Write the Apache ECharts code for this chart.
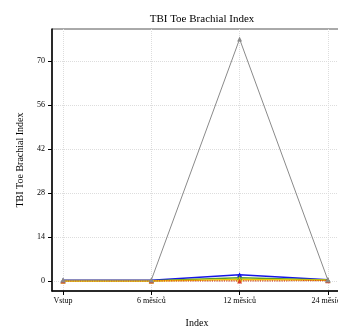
<!DOCTYPE html>
<html><head><meta charset="utf-8">
<script src="https://cdn.jsdelivr.net/npm/echarts@6/dist/echarts.min.js"></script>
<style>html,body{margin:0;padding:0;background:#fff}#c{width:338px;height:333px}</style>
</head><body><div id="c"></div>
<script>
const categories = ['Vstup', '6 měsíců', '12 měsíců', '24 měsíců'];
const yTicks = [0, 14, 28, 42, 56, 70];
const grayVals = [0.3, 0.3, 77, 0.3];
const blueVals = [0.2, 0.2, 2.0, 0.4];
const greenVals = [0.1, 0.1, 1.0, 0.3];
const yellowVals = [0.0, 0.0, 0.5, 0.2];
const redVals = [0.0, 0.0, 0.0, 0.1];

const font = 'Liberation Serif';
function mk(name, vals, color, width, type, z) {
  return {
    name, type: 'line', data: vals.map((v, i) => [i, v]), z: z || 2,
    symbol: 'triangle', symbolSize: 5,
    lineStyle: {color, width, type: type || 'solid'},
    itemStyle: {color}
  };
}
const chart = echarts.init(document.getElementById('c'), null, {renderer: 'canvas'});
chart.setOption({
  animation: false,
  title: {text: 'TBI Toe Brachial Index', left: 197, top: 9, textAlign: 'center',
    textStyle: {fontFamily: font, fontSize: 11, fontWeight: 'normal', color: '#000'}},
  grid: {left: 52, top: 29, right: -4, bottom: 42, show: true, borderColor: '#555', borderWidth: 1,
    containLabel: false, outerBoundsMode: 'none'},
  xAxis: {
    type: 'value', min: -0.125, max: 3.16,
    name: 'Index', nameLocation: 'middle', nameGap: 27,
    nameTextStyle: {fontFamily: font, fontSize: 10, color: '#000'},
    axisLine: {show: true, onZero: false, lineStyle: {color: '#000', width: 1.5}},
    axisTick: {show: true, customValues: [0, 1, 2, 3], length: 4, lineStyle: {color: '#000'}},
    axisLabel: {customValues: [0, 1, 2, 3], formatter: v => categories[Math.round(v)] || '',
      fontFamily: font, fontSize: 8, color: '#000', margin: 6, hideOverlap: false},
    splitLine: {show: true, lineStyle: {color: '#ddd', type: 'dotted'}}
  },
  yAxis: {
    type: 'value', min: -3.2, max: 80.2,
    name: 'TBI Toe Brachial Index', nameLocation: 'middle', nameGap: 27,
    nameTextStyle: {fontFamily: font, fontSize: 10, color: '#000'},
    axisLine: {show: true, onZero: false, lineStyle: {color: '#000', width: 1.5}},
    axisTick: {show: true, customValues: yTicks, length: 4, lineStyle: {color: '#000'}},
    axisLabel: {customValues: yTicks, fontFamily: font, fontSize: 8, color: '#000', margin: 7},
    splitLine: {show: true, lineStyle: {color: '#ddd', type: 'dotted'}}
  },
  series: [
    mk('blue', blueVals, '#1515e6', 1.5),
    mk('green', greenVals, '#5aa02c', 1.5),
    mk('yellow', yellowVals, '#f0c800', 1.5),
    mk('red', redVals, '#d9402a', 1.2, 'dotted'),
    mk('gray', grayVals, '#8a8a8a', 1, 'solid', 3)
  ]
});
</script></body></html>
